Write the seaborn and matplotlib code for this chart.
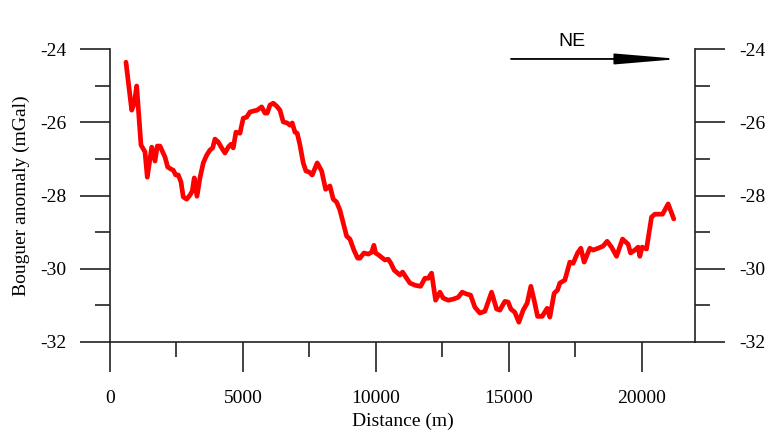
import matplotlib
matplotlib.use("Agg")
import matplotlib.pyplot as plt
from matplotlib.ticker import MultipleLocator
import seaborn as sns
import pandas as pd

distance_m = [600, 816, 914, 1004, 1090, 1165, 1316, 1402, 1568, 1692, 1778, 1880, 2068, 2169,
              2293, 2380, 2470, 2568, 2669, 2756, 2883, 3008, 3094, 3169, 3271, 3383, 3508, 3635,
              3759, 3861, 3947, 4071, 4199, 4323, 4447, 4549, 4635, 4737, 4887, 5011, 5139, 5263,
              5414, 5538, 5703, 5827, 5914, 6015, 6139, 6267, 6391, 6515, 6665, 6767, 6853, 6955,
              7041, 7143, 7267, 7368, 7492, 7605, 7793, 7959, 8109, 8271, 8395, 8523, 8647, 8771,
              8899, 9023, 9173, 9312, 9399, 9549, 9711, 9838, 9925, 9989, 10113, 10338, 10462,
              10564, 10688, 10902, 11004, 11128, 11278, 11466, 11680, 11842, 11966, 12094, 12244,
              12406, 12530, 12718, 12906, 13094, 13245, 13410, 13560, 13722, 13910, 14098, 14350,
              14538, 14662, 14850, 14974, 15075, 15226, 15376, 15538, 15688, 15827, 15951, 16079,
              16252, 16440, 16541, 16703, 16831, 16917, 17105, 17293, 17417, 17583, 17707, 17831,
              18045, 18169, 18357, 18545, 18696, 18861, 19050, 19274, 19485, 19575, 19737, 19861,
              19925, 20011, 20176, 20365, 20489, 20778, 20991, 21203]
bouguer_mgal = [-24.36, -25.67, -25.48, -25.01, -25.86, -26.62, -26.81, -27.50, -26.68, -27.06,
                -26.65, -26.65, -26.95, -27.22, -27.28, -27.31, -27.44, -27.44, -27.63, -28.04,
                -28.10, -27.99, -27.88, -27.52, -28.02, -27.52, -27.11, -26.90, -26.76, -26.70,
                -26.46, -26.54, -26.70, -26.84, -26.68, -26.60, -26.70, -26.27, -26.30, -25.89,
                -25.86, -25.72, -25.69, -25.67, -25.58, -25.75, -25.75, -25.53, -25.48, -25.56,
                -25.67, -25.99, -26.02, -26.08, -26.02, -26.27, -26.30, -26.62, -27.11, -27.33,
                -27.36, -27.44, -27.11, -27.33, -27.83, -27.74, -28.10, -28.18, -28.40, -28.75,
                -29.11, -29.19, -29.49, -29.71, -29.71, -29.57, -29.60, -29.55, -29.36, -29.57,
                -29.63, -29.76, -29.74, -29.85, -30.04, -30.17, -30.09, -30.23, -30.39, -30.45,
                -30.48, -30.26, -30.26, -30.12, -30.86, -30.64, -30.80, -30.86, -30.83, -30.78,
                -30.64, -30.69, -30.72, -31.05, -31.21, -31.16, -30.64, -31.10, -31.13, -30.89,
                -30.91, -31.10, -31.19, -31.46, -31.13, -30.94, -30.48, -30.86, -31.30, -31.30,
                -31.08, -31.32, -30.67, -30.58, -30.39, -30.31, -29.82, -29.85, -29.57, -29.44,
                -29.82, -29.44, -29.49, -29.44, -29.38, -29.25, -29.41, -29.66, -29.19, -29.33,
                -29.57, -29.49, -29.41, -29.66, -29.41, -29.46, -28.59, -28.51, -28.51, -28.23,
                -28.64]

x_ticks = [0, 5000, 10000, 15000, 20000]
y_ticks = [-32, -30, -28, -26, -24]
x_label = "Distance (m)"
y_label = "Bouguer anomaly (mGal)"
direction_label = "NE"

sns.set_style("white")
plt.rcParams["font.family"] = ["Liberation Serif", "DejaVu Serif"]
plt.rcParams["text.color"] = "black"
plt.rcParams["axes.labelcolor"] = "black"
plt.rcParams["xtick.labelcolor"] = "black"
plt.rcParams["ytick.labelcolor"] = "black"

df = pd.DataFrame({"distance": distance_m, "anomaly": bouguer_mgal})

fig = plt.figure(figsize=(7.65, 4.30), dpi=100)
ax = fig.add_axes([110 / 765, 1 - 342 / 430, 585 / 765, 293 / 430])

sns.lineplot(data=df, x="distance", y="anomaly", ax=ax, color="#ff0000", linewidth=3.4,
             sort=False, estimator=None)

ax.set_xlim(0, 22000)
ax.set_ylim(-32, -24)
ax.set_xticks(x_ticks)
ax.set_yticks(y_ticks)
ax.xaxis.set_minor_locator(MultipleLocator(2500))
ax.yaxis.set_minor_locator(MultipleLocator(1))
ax.set_xticklabels([str(v) for v in x_ticks])
ax.set_yticklabels([str(v) for v in y_ticks])

spine_color = "#222222"
for side in ["left", "right", "bottom"]:
    ax.spines[side].set_visible(True)
    ax.spines[side].set_color(spine_color)
    ax.spines[side].set_linewidth(1.2)
ax.spines["top"].set_visible(False)

ax.tick_params(axis="y", which="major", direction="out", length=21.6, width=1.2,
               color=spine_color, left=True, right=True, labelleft=True, labelright=True,
               labelsize=14, pad=10, labelcolor="black")
ax.tick_params(axis="y", which="minor", direction="out", length=10.8, width=1.2,
               color=spine_color, left=True, right=True)
ax.tick_params(axis="x", which="major", direction="out", length=21.6, width=1.2,
               color=spine_color, bottom=True, labelsize=14, pad=13, labelcolor="black")
ax.tick_params(axis="x", which="minor", direction="out", length=10.8, width=1.2,
               color=spine_color, bottom=True)

ax.set_xlabel(x_label, fontsize=14, labelpad=4, color="black")
ax.set_ylabel(y_label, fontsize=14, labelpad=7, color="black")

ax.annotate("", xy=(0.973, 0.966), xytext=(0.6855, 0.966), xycoords="axes fraction",
            textcoords="axes fraction",
            arrowprops=dict(arrowstyle="-|>,head_length=3.9,head_width=0.33",
                            mutation_scale=10, color="black", lw=1.3,
                            shrinkA=0, shrinkB=0))
ax.text(0.79, 1.027, direction_label, transform=ax.transAxes, ha="center", va="center",
        fontsize=14, family=["Liberation Sans", "DejaVu Sans"], clip_on=False,
        color="black")

fig.savefig("out.png", dpi=100, facecolor="white")
